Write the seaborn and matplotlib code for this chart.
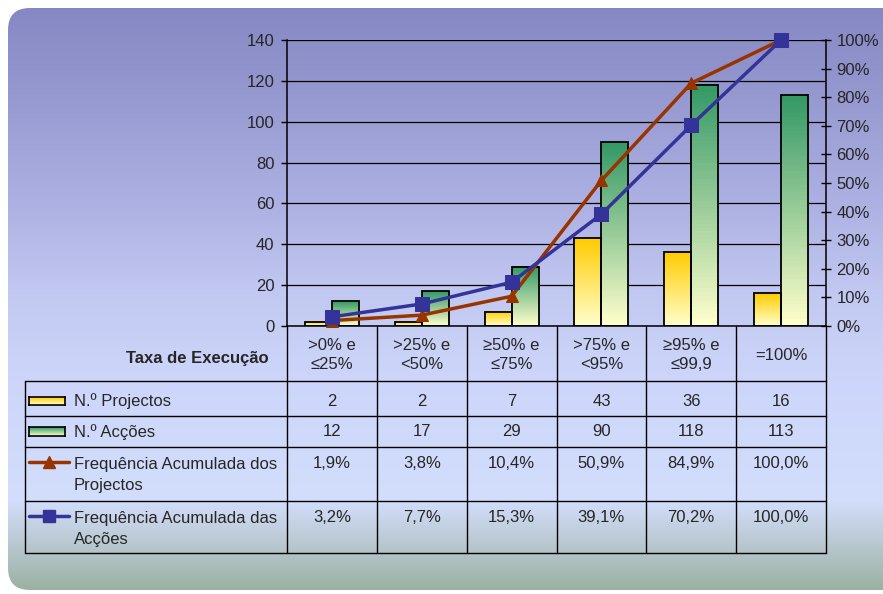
import numpy as np
import pandas as pd
import matplotlib
matplotlib.use('Agg')
import matplotlib.pyplot as plt
from matplotlib.patches import FancyBboxPatch
from matplotlib.lines import Line2D
from matplotlib.transforms import Affine2D
from matplotlib.ticker import PercentFormatter
import seaborn as sns

# ----------------------------- #
#  Data
# ----------------------------- #
categorias = ['>0% e\n≤25%', '>25% e\n<50%', '≥50% e\n≤75%',
              '>75% e\n<95%', '≥95% e\n≤99,9', '=100%']
n_projectos = [2, 2, 7, 43, 36, 16]
n_accoes = [12, 17, 29, 90, 118, 113]
freq_projectos = [1.9, 3.8, 10.4, 50.9, 84.9, 100.0]
freq_accoes = [3.2, 7.7, 15.3, 39.1, 70.2, 100.0]

series_barras = ['N.º Projectos', 'N.º Acções']
series_linhas = ['Frequência Acumulada dos\nProjectos', 'Frequência Acumulada das\nAcções']

df = pd.DataFrame({
    'Taxa': categorias * 2,
    'Serie': [series_barras[0]] * 6 + [series_barras[1]] * 6,
    'Valor': n_projectos + n_accoes,
})

# ----------------------------- #
#  Style
# ----------------------------- #
W, H = 883, 594
sns.set_style('ticks')
plt.rcParams['font.family'] = ['Liberation Sans', 'DejaVu Sans']
plt.rcParams['font.size'] = 12

YELLOW_TOP, YELLOW_BOT = np.array([255, 204, 0]) / 255, np.array([255, 255, 204]) / 255
GREEN_TOP, GREEN_BOT = np.array([51, 153, 102]) / 255, np.array([255, 255, 204]) / 255
RED, BLUE = '#993300', '#333399'


def vgrad(top, bot, n=64):
    t = np.linspace(0, 1, n)[:, None]
    return (bot * (1 - t) + top * t)[:, None, :]  # row 0 = bottom


fig = plt.figure(figsize=(W / 100, H / 100), dpi=100)
px = Affine2D().scale(1 / W, -1 / H).translate(0, 1) + fig.transFigure

# ----------------------------- #
#  Background (rounded gradient panel)
# ----------------------------- #
bg = fig.add_axes([0, 0, 1, 1], zorder=-10)
bg.set_axis_off()
stops_y = [0, 100, 200, 300, 380, 500, 535, 594]
stops_c = np.array([(132, 134, 194), (150, 154, 208), (172, 176, 226), (195, 202, 242),
                    (205, 214, 250), (210, 222, 252), (190, 204, 216), (152, 175, 158)]) / 255
yy = np.arange(H)
bg_img = np.stack([np.interp(yy, stops_y, stops_c[:, k]) for k in range(3)], axis=1)[:, None, :]
im = bg.imshow(bg_img, extent=[0, W, H, 0], aspect='auto')
panel = FancyBboxPatch((8, 8), 920, 582, boxstyle='round,pad=0,rounding_size=22',
                       transform=bg.transData, facecolor='none', edgecolor='none')
bg.add_patch(panel)
im.set_clip_path(panel)
bg.set_xlim(0, W)
bg.set_ylim(H, 0)

# ----------------------------- #
#  Bars
# ----------------------------- #
x0, x1, ytop, ybot = 287, 826, 40, 326
ax = fig.add_axes([x0 / W, (H - ybot) / H, (x1 - x0) / W, (ybot - ytop) / H])
ax.patch.set_visible(False)
sns.barplot(data=df, x='Taxa', y='Valor', hue='Serie', order=categorias,
            hue_order=series_barras, palette=['#ffcc00', '#339966'],
            width=0.6, gap=0, errorbar=None, edgecolor='black', linewidth=1.3,
            legend=False, ax=ax)

for p in list(ax.patches):
    fc = p.get_facecolor()
    top, bot = (YELLOW_TOP, YELLOW_BOT) if fc[2] < 0.2 else (GREEN_TOP, GREEN_BOT)
    x, y, w, h = p.get_x(), p.get_y(), p.get_width(), p.get_height()
    ax.imshow(vgrad(top, bot), extent=[x, x + w, y, y + h], origin='lower',
              aspect='auto', zorder=0.9)
    p.set_facecolor('none')

ax.set_xlim(-0.5, 5.5)
ax.set_ylim(0, 140)
ax.set_yticks(range(0, 141, 20))
ax.set_xticks([])
ax.set_xlabel('')
ax.set_ylabel('')
ax.set_axisbelow(True)
ax.grid(axis='y', color='black', linewidth=0.9)
ax.tick_params(axis='y', direction='out', length=4, width=1, color='black', pad=5, labelsize=12)
for s in ['top', 'right']:
    ax.spines[s].set_visible(False)
for s in ['left', 'bottom']:
    ax.spines[s].set_color('black')
    ax.spines[s].set_linewidth(1.1)

# ----------------------------- #
#  Cumulative lines (right axis)
# ----------------------------- #
ax2 = ax.twinx()
ax2.patch.set_visible(False)
pos = np.arange(len(categorias))
sns.lineplot(x=pos, y=np.array(freq_projectos) / 100, ax=ax2, color=RED, linewidth=2.5,
             marker='^', markersize=9, markeredgecolor=RED, clip_on=False)
sns.lineplot(x=pos, y=np.array(freq_accoes) / 100, ax=ax2, color=BLUE, linewidth=2.5,
             marker='s', markersize=10, markeredgecolor=BLUE, clip_on=False)
ax2.set_xlim(-0.5, 5.5)
ax2.set_ylim(0, 1)
ax2.set_yticks(np.arange(0, 1.01, 0.1))
ax2.yaxis.set_major_formatter(PercentFormatter(1.0, decimals=0))
ax2.set_xticks([])
ax2.set_xlabel('')
ax2.set_ylabel('')
ax2.tick_params(axis='y', direction='inout', length=7, width=1, color='black', pad=4, labelsize=12)
for s in ['top', 'left', 'bottom']:
    ax2.spines[s].set_visible(False)
ax2.spines['right'].set_color('black')
ax2.spines['right'].set_linewidth(1.1)

# ----------------------------- #
#  Data table
# ----------------------------- #
cw = (x1 - x0) / 6
cols = [x0 + i * cw for i in range(7)]
rows = [381, 416, 447, 501, 553]
lx = 25


def line(xs, ys, lw=1.0):
    fig.add_artist(Line2D(xs, ys, transform=px, color='black', linewidth=lw))


for y in rows:
    line([lx, x1], [y, y])
for x in cols:
    line([x, x], [ybot, rows[-1]])
line([lx, lx], [rows[0], rows[-1]])

fig.text(197, 358, 'Taxa de Execução', transform=px, ha='center', va='center',
         fontsize=12, fontweight='bold')
for i, c in enumerate(categorias):
    fig.text(cols[i] + cw / 2, 355, c, transform=px, ha='center', va='center',
             fontsize=12, linespacing=1.4, multialignment='center')

fmt_pct = lambda v: f'{v:.1f}%'.replace('.', ',')
row_vals = [
    (400, [str(v) for v in n_projectos]),
    (431, [str(v) for v in n_accoes]),
    (462, [fmt_pct(v) for v in freq_projectos]),
    (516, [fmt_pct(v) for v in freq_accoes]),
]
for y, vals in row_vals:
    for i, v in enumerate(vals):
        fig.text(cols[i] + cw / 2, y + 1, v, transform=px, ha='center', va='center', fontsize=12)

# row labels
fig.text(74, 401, series_barras[0], transform=px, ha='left', va='center', fontsize=12)
fig.text(74, 432, series_barras[1], transform=px, ha='left', va='center', fontsize=12)
fig.text(74, 475, series_linhas[0], transform=px, ha='left', va='center', fontsize=12,
         linespacing=1.5)
fig.text(74, 529, series_linhas[1], transform=px, ha='left', va='center', fontsize=12,
         linespacing=1.5)

# legend keys
for (yk0, yk1), (top, bot) in zip([(397, 405), (427, 436)],
                                  [(YELLOW_TOP, YELLOW_BOT), (GREEN_TOP, GREEN_BOT)]):
    k = fig.add_axes([29 / W, (H - yk1) / H, 36 / W, (yk1 - yk0) / H])
    k.imshow(vgrad(top, bot), origin='lower', aspect='auto', extent=[0, 1, 0, 1])
    k.set_xticks([])
    k.set_yticks([])
    for s in k.spines.values():
        s.set_color('black')
        s.set_linewidth(1.2)

fig.add_artist(Line2D([29, 49, 69], [462, 462, 462], transform=px, color=RED, linewidth=2.5,
                      marker='^', markersize=8, markevery=[1], markeredgecolor=RED))
fig.add_artist(Line2D([29, 49, 69], [516, 516, 516], transform=px, color=BLUE, linewidth=2.5,
                      marker='s', markersize=9, markevery=[1], markeredgecolor=BLUE))

fig.savefig('out.png', dpi=100)
